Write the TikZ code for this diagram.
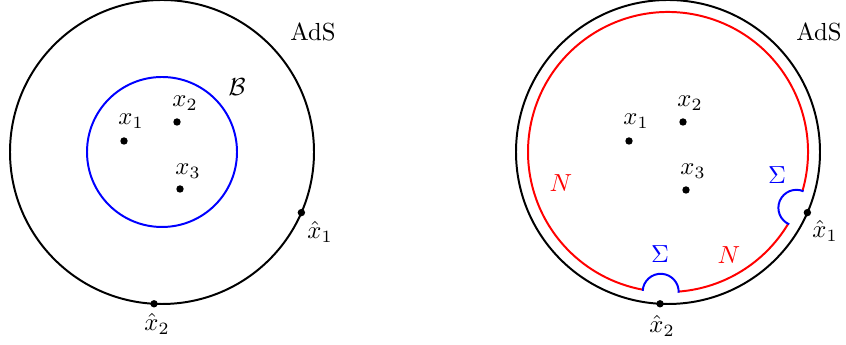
\documentclass[tikz,border=0pt]{standalone}
\usetikzlibrary{calc}
\tikzset{
  bulk/.style={draw=black, line width=0.8pt},
  ball/.style={draw=blue, line width=0.8pt},
  brane/.style={draw=red, line width=0.8pt},
  cut/.style={draw=blue, line width=0.8pt},
  dot/.style={circle, fill=black, inner sep=0pt, minimum size=3pt},
  lab/.style={inner sep=0pt}
}
\begin{document}
\begin{tikzpicture}[x=0.405pt, y=0.405pt]
\useasboundingbox (0,0) rectangle (846,345);
% ---------- left panel ----------
\coordinate (CL) at (162,193);
\draw[bulk] (CL) circle[radius=152];
\draw[ball] (CL) circle[radius=75];
\node[dot] (lx1) at (124,204) {};
\node[dot] (lx2) at (177,223) {};
\node[dot] (lx3) at (180,156) {};
\node[dot] (lh1) at ($(CL)+(-23.5:152)$) {};
\node[dot] (lh2) at ($(CL)+(-93:152)$) {};
\node[lab] (llx1) at (131,224) {$x_1$};
\node[lab] (llx2) at (185,242) {$x_2$};
\node[lab] (llx3) at (188,174) {$x_3$};
\node[lab] (lB) at (237,258) {$\mathcal{B}$};
\node[lab] (lAdS) at (313,313) {AdS};
\node[lab] (llh1) at (320,113) {$\hat{x}_1$};
\node[lab] (llh2) at (157,21) {$\hat{x}_2$};
% ---------- right panel ----------
\coordinate (CR) at (668,193);
\draw[bulk] (CR) circle[radius=152];
\draw[brane] (CR) ++(-16.1:140) arc[start angle=-16.1, end angle=259.6, radius=140];
\draw[brane] (CR) ++(-85.6:140) arc[start angle=-85.6, end angle=-30.9, radius=140];
\coordinate (PB) at ($(CR)+(-93:140)$);
\coordinate (PR) at ($(CR)+(-23.5:140)$);
\draw[cut] (PB) ++(-3:18) arc[start angle=-3, end angle=177, radius=18];
\draw[cut] (PR) ++(66.5:18) arc[start angle=66.5, end angle=246.5, radius=18];
\node[dot] (rx1) at (629,204) {};
\node[dot] (rx2) at (683,223) {};
\node[dot] (rx3) at (686,155) {};
\node[dot] (rh1) at ($(CR)+(-23.5:152)$) {};
\node[dot] (rh2) at ($(CR)+(-93:152)$) {};
\node[lab] (rlx1) at (636,224) {$x_1$};
\node[lab] (rlx2) at (690,242) {$x_2$};
\node[lab] (rlx3) at (693,174) {$x_3$};
\node[lab] (rAdS) at (819,313) {AdS};
\node[lab] (rlh1) at (825,114) {$\hat{x}_1$};
\node[lab] (rlh2) at (662,19) {$\hat{x}_2$};
\node[lab, text=red] (rN1) at (561,162) {$N$};
\node[lab, text=red] (rN2) at (729,90) {$N$};
\node[lab, text=blue] (rS1) at (660,91) {$\Sigma$};
\node[lab, text=blue] (rS2) at (777,170) {$\Sigma$};
\end{tikzpicture}
\end{document}
